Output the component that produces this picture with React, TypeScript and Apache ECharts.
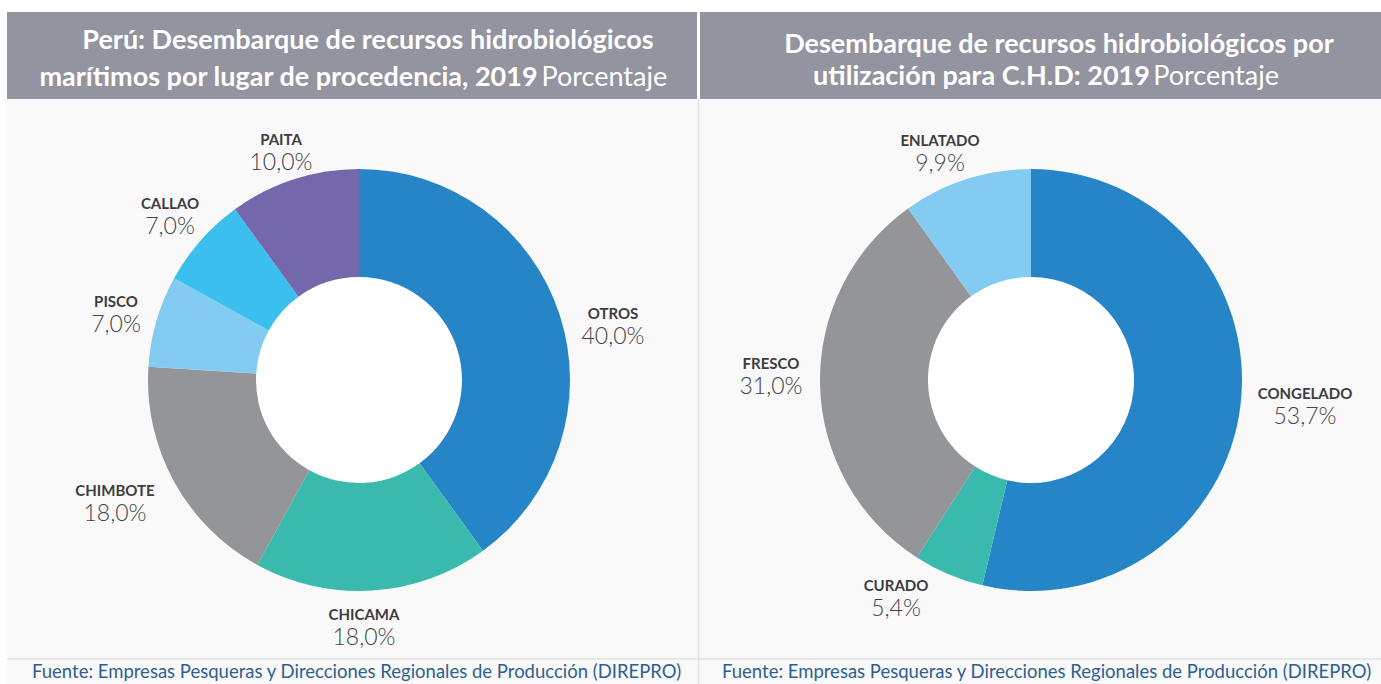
import React, { useEffect, useRef } from "react";
import * as echarts from "echarts";

const leftNames = ["OTROS", "CHICAMA", "CHIMBOTE", "PISCO", "CALLAO", "PAITA"];
const leftValues = [40.0, 18.0, 18.0, 7.0, 7.0, 10.0];
const leftColors = ["#2585c6", "#3ab9ad", "#939598", "#83cbf1", "#3abfef", "#7567ab"];
const leftLabelPos = [[613, 324], [364, 625], [115, 501], [116, 312], [170, 214], [281, 150]];

const rightNames = ["CONGELADO", "CURADO", "FRESCO", "ENLATADO"];
const rightValues = [53.7, 5.4, 31.0, 9.9];
const rightColors = ["#2585c6", "#3ab9ad", "#939598", "#83cbf1"];
const rightLabelPos = [[1305, 404], [896, 596], [771, 374], [940, 151]];

const leftTitle = ["Perú: Desembarque de recursos hidrobiológicos", "marítimos por lugar de procedencia, 2019"];
const rightTitle = ["Desembarque de recursos hidrobiológicos por", "utilización para C.H.D: 2019"];
const unit = "Porcentaje";
const source = "Fuente: Empresas Pesqueras y Direcciones Regionales de Producción (DIREPRO)";

const FONT = "Lato, 'Noto Sans', sans-serif";

function fmt(v: number) {
  return v.toFixed(1).replace(".", ",") + "%";
}

function makeSeries(names: string[], values: number[], colors: string[], pos: number[][], center: number[]) {
  return {
    type: "pie",
    center,
    radius: [103, 211],
    startAngle: 90,
    clockwise: true,
    data: names.map((n, i) => ({ name: n, value: values[i], itemStyle: { color: colors[i] } })),
    itemStyle: { borderWidth: 0 },
    emphasis: { disabled: true },
    labelLine: { show: false },
    label: {
      show: true,
      position: "inside",
      overflow: "none",
      color: "#434345",
      textBorderWidth: 0,
      formatter: (p: any) => `{n|${p.name}}\n{v|${fmt(p.value)}}`,
      rich: {
        n: { fontFamily: FONT, fontWeight: "bold", fontSize: 15, color: "#3d3d40", lineHeight: 21, align: "center", textBorderWidth: 0 },
        v: { fontFamily: FONT, fontWeight: 300, fontSize: 23, color: "#434345", lineHeight: 22, align: "center", textBorderWidth: 0 },
      },
    },
    labelLayout: (p: any) => ({
      x: pos[p.dataIndex][0],
      y: pos[p.dataIndex][1],
      align: "center",
      verticalAlign: "middle",
      hideOverlap: false,
    }),
  };
}

function titleLine(text: string, x: number, y: number, withUnit: boolean) {
  return {
    type: "text", z: 10, x, y,
    style: {
      text: withUnit ? `{b|${text}} {r|${unit}}` : `{b|${text}}`,
      align: "center", verticalAlign: "middle",
      rich: {
        b: { fontFamily: FONT, fontWeight: "bold", fontSize: 27, fill: "#ffffff", color: "#ffffff" },
        r: { fontFamily: FONT, fontWeight: "normal", fontSize: 27, fill: "#ffffff", color: "#ffffff" },
      },
    },
  };
}

export default function App() {
  const ref = useRef<HTMLDivElement>(null);
  useEffect(() => {
    document.body.style.margin = "0";
    const chart = echarts.init(ref.current!, null, { renderer: "svg" });
    chart.setOption({
      animation: false,
      backgroundColor: "#ffffff",
      graphic: [
        { type: "rect", silent: true, z: -10, shape: { x: 7, y: 99, width: 1374, height: 585 }, style: { fill: "#f9f9f9" } },
        { type: "rect", silent: true, z: -5, shape: { x: 7, y: 12, width: 690, height: 87 }, style: { fill: "#92949f" } },
        { type: "rect", silent: true, z: -5, shape: { x: 700, y: 12, width: 681, height: 87 }, style: { fill: "#92949f" } },
        { type: "line", silent: true, z: -4, shape: { x1: 698.5, y1: 99, x2: 698.5, y2: 684 }, style: { stroke: "#e4e4e4", lineWidth: 1.5 } },
        { type: "line", silent: true, z: -4, shape: { x1: 7, y1: 659, x2: 1381, y2: 659 }, style: { stroke: "#e2e2e2", lineWidth: 1.5 } },
        { type: "circle", silent: true, z: -3, shape: { cx: 359, cy: 380, r: 104 }, style: { fill: "#ffffff" } },
        { type: "circle", silent: true, z: -3, shape: { cx: 1031, cy: 380, r: 104 }, style: { fill: "#ffffff" } },
        titleLine(leftTitle[0], 368, 38, false),
        titleLine(leftTitle[1], 353, 75, true),
        titleLine(rightTitle[0], 1059, 42, false),
        titleLine(rightTitle[1], 1046, 74, true),
        {
          type: "text", z: 10, x: 32, y: 671,
          style: { text: source, fontFamily: FONT, fontSize: 18.5, fill: "#2f5f8f", align: "left", verticalAlign: "middle" },
        },
        {
          type: "text", z: 10, x: 722, y: 671,
          style: { text: source, fontFamily: FONT, fontSize: 18.5, fill: "#2f5f8f", align: "left", verticalAlign: "middle" },
        },
      ],
      series: [
        makeSeries(leftNames, leftValues, leftColors, leftLabelPos, [359, 380]),
        makeSeries(rightNames, rightValues, rightColors, rightLabelPos, [1031, 380]),
      ],
    });
    return () => chart.dispose();
  }, []);
  return <div ref={ref} style={{ width: 1381, height: 684 }} />;
}
